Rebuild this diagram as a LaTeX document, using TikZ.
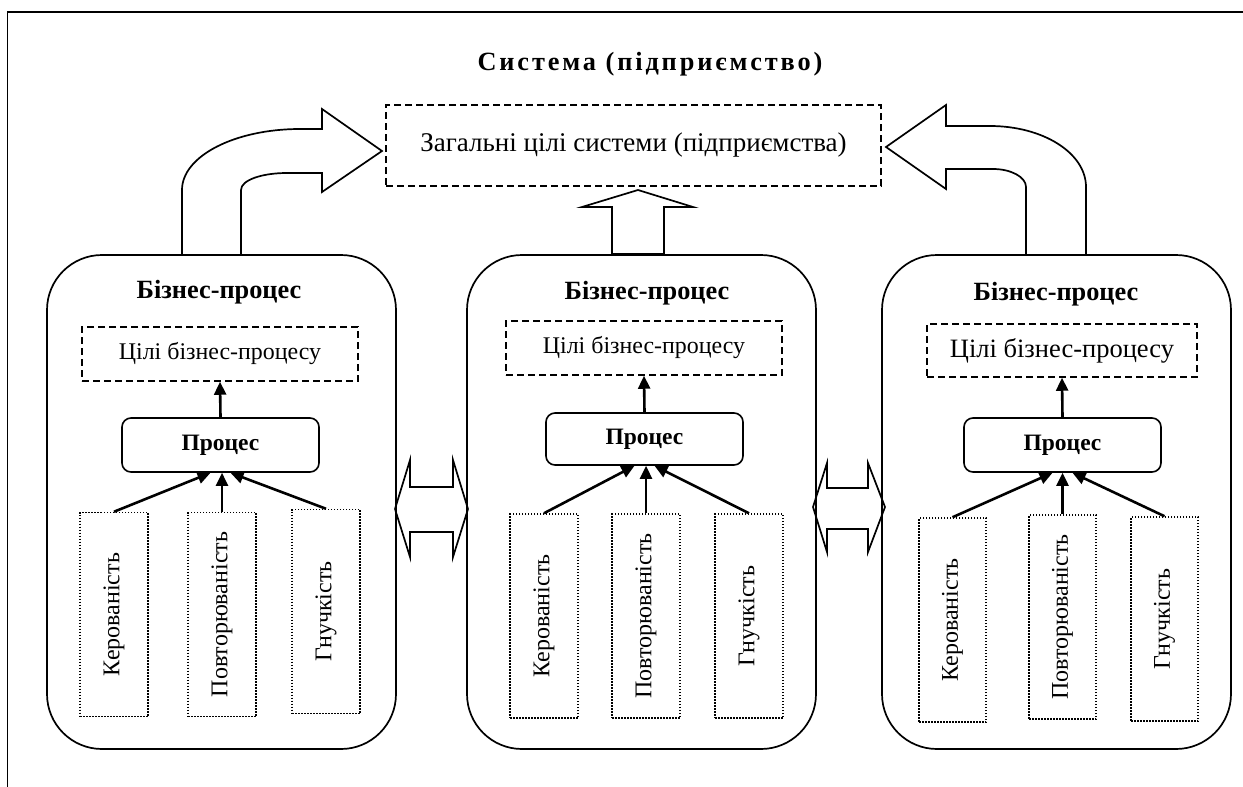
\documentclass[tikz,border=0pt]{standalone}
\usepackage{fontspec}
\setmainfont{Liberation Serif}
\usetikzlibrary{arrows.meta}
\begin{document}
\begin{tikzpicture}[x=1pt,y=-1pt,
  every node/.style={inner sep=0pt, font=\fontsize{24}{29}\selectfont},
  boldtxt/.style={font=\fontsize{26.3}{31}\selectfont\bfseries},
  frameline/.style={line width=1.5pt},
  bigbox/.style={draw, line width=1.7pt, rounded corners=55pt},
  goalbox/.style={draw, line width=1.5pt, dash pattern=on 7pt off 4pt, font=\fontsize{23.9}{29}\selectfont},
  procbox/.style={draw, line width=1.6pt, rounded corners=9pt, font=\fontsize{23.5}{29}\selectfont\bfseries},
  factbox/.style={draw, line width=1.5pt, dash pattern=on 1.5pt off 1.5pt, minimum width=68pt, minimum height=204pt},
  facttxt/.style={rotate=90, font=\fontsize{24}{29}\selectfont},
  conn/.style={line width=2.6pt, -{Triangle[length=13pt,width=12pt]}},
  blockarrow/.style={draw, line width=1.7pt, fill=white, line join=miter},
]
\useasboundingbox (0,0) rectangle (1243,787);
\draw[frameline] (7.5,787) -- (7.5,12) -- (1243,12);

% title
\node[boldtxt, anchor=base] (title) at (650,70) {\addfontfeatures{LetterSpace=11}Система (підприємство)};

% system goal
\node[goalbox, minimum width=495pt, minimum height=81pt, font=\fontsize{27}{32}\selectfont] (goal) at (633.5,145.5) {Загальні цілі системи (підприємства)};

% block arrows
\draw[blockarrow] (182,255) -- (182,190) .. controls (182,156) and (235,129) .. (300,129) -- (322,129) -- (322,109) -- (382,151) -- (322,192) -- (322,173) -- (287,173) .. controls (262,173) and (241,180) .. (241,190) -- (241,255) -- cycle;
\draw[blockarrow] (1086,255) -- (1086,187) .. controls (1086,153) and (1043,126) .. (990,126) -- (946,126) -- (946,105) -- (886,147) -- (946,189) -- (946,169) -- (993,169) .. controls (1011,169) and (1026,177) .. (1026,187) -- (1026,255) -- cycle;
\draw[blockarrow] (612,254) -- (612,207) -- (582,207) -- (638,190) -- (693,207) -- (664,207) -- (664,254) -- cycle;
\draw[blockarrow] (395,509) -- (410,460) -- (410,487) -- (453,487) -- (453,460) -- (468,509) -- (453,557) -- (453,532) -- (410,532) -- (410,557) -- cycle;
\draw[blockarrow] (813,507) -- (827,463) -- (827,488) -- (868,488) -- (868,463) -- (885,507) -- (868,552) -- (868,529) -- (827,529) -- (827,552) -- cycle;

% ---- business process 1
\node[bigbox, minimum width=349pt, minimum height=494pt] (b1) at (221.5,502) {};
\node[boldtxt, anchor=base] (t1) at (219,298) {Бізнес-процес};
\node[goalbox, minimum width=276pt, minimum height=54pt] (g1) at (220,354) {Цілі бізнес-процесу};
\node[procbox, minimum width=197pt, minimum height=54pt] (p1) at (220.5,445) {Процес};
\node[factbox] (f1a) at (114,614.5) {};
\node[factbox] (f1b) at (222,614.5) {};
\node[factbox] (f1c) at (326,611.5) {};
\node[facttxt] at (f1a) {Керованість};
\node[facttxt] at (f1b) {Повторюваність};
\node[facttxt] at (f1c) {Гнучкість};
\draw[conn] (p1.north) -- (g1.south);
\draw[conn] (f1a.north) -- ([xshift=-10pt]p1.south);
\draw[conn] (f1b.north) -- (f1b.north |- p1.south);
\draw[conn] (f1c.north) -- ([xshift=10pt]p1.south);

% ---- business process 2
\node[bigbox, minimum width=349pt, minimum height=494pt] (b2) at (641.5,502) {};
\node[boldtxt, anchor=base] (t2) at (647,299) {Бізнес-процес};
\node[goalbox, minimum width=276pt, minimum height=54pt] (g2) at (644,348) {Цілі бізнес-процесу};
\node[procbox, minimum width=197pt, minimum height=52pt] (p2) at (644.5,439) {Процес};
\node[factbox] (f2a) at (544,616) {};
\node[factbox] (f2b) at (646,616) {};
\node[factbox] (f2c) at (749,616) {};
\node[facttxt] at (f2a) {Керованість};
\node[facttxt] at (f2b) {Повторюваність};
\node[facttxt] at (f2c) {Гнучкість};
\draw[conn] (p2.north) -- (g2.south);
\draw[conn] (f2a.north) -- ([xshift=-10pt]p2.south);
\draw[conn] (f2b.north) -- (f2b.north |- p2.south);
\draw[conn] (f2c.north) -- ([xshift=10pt]p2.south);

% ---- business process 3
\node[bigbox, minimum width=349pt, minimum height=494pt] (b3) at (1056.5,502) {};
\node[boldtxt, anchor=base] (t3) at (1056,300) {Бізнес-процес};
\node[goalbox, minimum width=270pt, minimum height=53pt, font=\fontsize{26.5}{31}\selectfont] (g3) at (1062,350.5) {Цілі бізнес-процесу};
\node[procbox, minimum width=197pt, minimum height=54pt] (p3) at (1062.5,445) {Процес};
\node[factbox, minimum width=67pt] (f3a) at (952.5,620) {};
\node[factbox, minimum width=67pt] (f3b) at (1062.5,617) {};
\node[factbox, minimum width=67pt] (f3c) at (1164.5,619) {};
\node[facttxt] at (f3a) {Керованість};
\node[facttxt] at (f3b) {Повторюваність};
\node[facttxt] at (f3c) {Гнучкість};
\draw[conn] (p3.north) -- (g3.south);
\draw[conn] (f3a.north) -- ([xshift=-10pt]p3.south);
\draw[conn] (f3b.north) -- (f3b.north |- p3.south);
\draw[conn] (f3c.north) -- ([xshift=10pt]p3.south);
\end{tikzpicture}
\end{document}
